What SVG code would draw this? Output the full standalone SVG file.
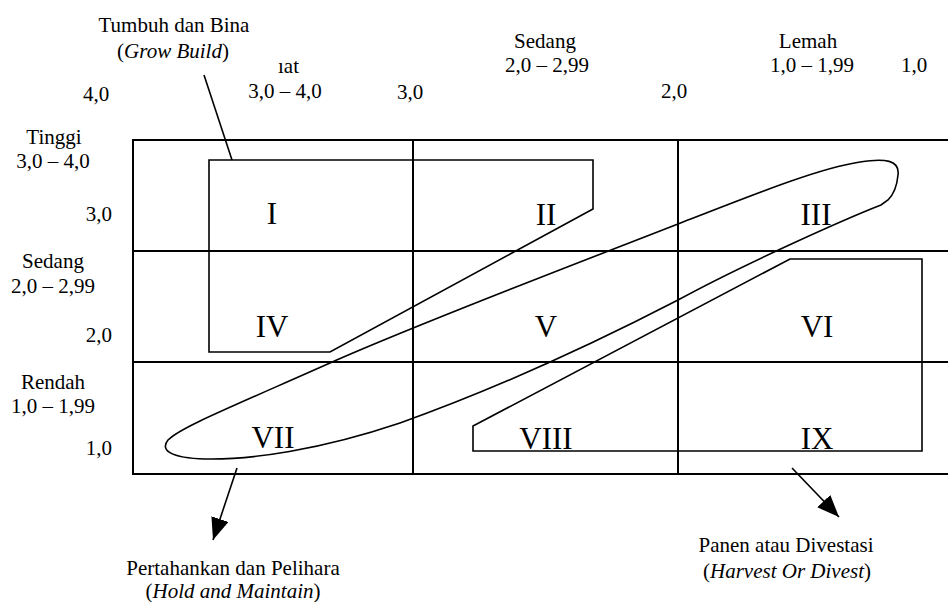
<svg xmlns="http://www.w3.org/2000/svg" width="948" height="602" viewBox="0 0 948 602">
<style>
text{font-size:21px;fill:#000}
.c{text-anchor:middle}
.r{text-anchor:end}
.num{font-size:31px;text-anchor:middle}
.grid{fill:none;stroke:#000;stroke-width:2}
.shape{fill:none;stroke:#000;stroke-width:1.6;stroke-linejoin:miter}
.conn{fill:none;stroke:#000;stroke-width:1.6}
</style>
<defs>
<marker id="ah" viewBox="0 0 22 18" refX="22" refY="9" markerWidth="22" markerHeight="18" markerUnits="userSpaceOnUse" orient="auto">
<path d="M0,0 L22,9 L0,18 z" fill="#000"/>
</marker>
</defs>
<rect width="948" height="602" fill="#fff"/>
<g font-family="'Liberation Serif', 'Times New Roman', 'DejaVu Serif', serif">

<g id="axis-top">
<text x="278" y="73">ıat</text>
<text class="c" x="285" y="98">3,0 – 4,0</text>
<text x="83" y="101">4,0</text>
<text x="397" y="99">3,0</text>
<text class="c" x="545" y="48">Sedang</text>
<text class="c" x="547" y="72">2,0 – 2,99</text>
<text x="661" y="98">2,0</text>
<text class="c" x="808" y="48">Lemah</text>
<text class="c" x="812" y="72">1,0 – 1,99</text>
<text x="901" y="72">1,0</text>
</g>

<g id="axis-left">
<text class="c" x="54" y="144">Tinggi</text>
<text class="c" x="53" y="168">3,0 – 4,0</text>
<text class="r" x="112" y="221">3,0</text>
<text class="c" x="53" y="268">Sedang</text>
<text class="c" x="53" y="293">2,0 – 2,99</text>
<text class="r" x="112" y="342">2,0</text>
<text class="c" x="53" y="389">Rendah</text>
<text class="c" x="53" y="413">1,0 – 1,99</text>
<text class="r" x="112" y="455">1,0</text>
</g>

<g id="grid">
<rect class="grid" x="133" y="140" width="830" height="334"/>
<line class="grid" x1="413" y1="140" x2="413" y2="474"/>
<line class="grid" x1="678" y1="140" x2="678" y2="474"/>
<line class="grid" x1="133" y1="251" x2="948" y2="251"/>
<line class="grid" x1="133" y1="362" x2="948" y2="362"/>
</g>

<g id="cells">
<text class="num" x="272" y="224">I</text>
<text class="num" x="546" y="225">II</text>
<text class="num" x="816" y="225">III</text>
<text class="num" x="272" y="337">IV</text>
<text class="num" x="546" y="337">V</text>
<text class="num" x="817" y="337">VI</text>
<text class="num" x="273" y="448">VII</text>
<text class="num" x="546" y="449">VIII</text>
<text class="num" x="817" y="449">IX</text>
</g>

<g id="grow-build">
<polygon class="shape" points="209,160 593,160 593,209 330,352 209,352"/>
<text class="c" x="174" y="32">Tumbuh dan Bina</text>
<text class="c" x="173" y="58">(<tspan font-style="italic">Grow Build</tspan>)</text>
</g>

<g id="hold-maintain">
<path class="shape" d="M881,205 C845,219 740,266 678,300 C620,330 520,380 400,423 C320,450 250,460 205,459 C170,458 160,450 168,440 C180,428 215,414 330,363 C420,323 560,270 678,224 C760,192 820,168 860,162 C885,158 900,160 898,175 C897,186 893,195 888,200 L881,205 Z"/>
<text class="c" x="233" y="575">Pertahankan dan Pelihara</text>
<text class="c" x="233" y="598">(<tspan font-style="italic">Hold and Maintain</tspan>)</text>
</g>

<g id="harvest-divest">
<polygon class="shape" points="790,259 922,259 922,451 473,451 473,426"/>
<text class="c" x="786" y="552">Panen atau Divestasi</text>
<text class="c" x="787" y="578">(<tspan font-style="italic">Harvest Or Divest</tspan>)</text>
</g>

<g id="connectors">
<line class="conn" x1="204" y1="75" x2="232" y2="160"/>
<line class="conn" x1="237" y1="468" x2="213" y2="540" marker-end="url(#ah)"/>
<line class="conn" x1="792" y1="468" x2="839" y2="517" marker-end="url(#ah)"/>
</g>
</g>
</svg>
